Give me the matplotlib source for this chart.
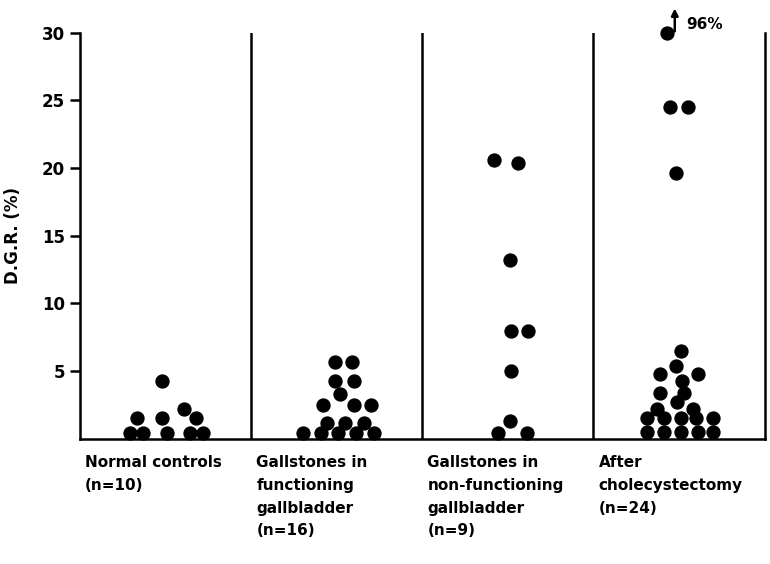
import matplotlib
matplotlib.use("Agg")
import matplotlib.pyplot as plt

# groups shown left to right
groups = [
    "Normal controls\n(n=10)",
    "Gallstones in\nfunctioning\ngallbladder\n(n=16)",
    "Gallstones in\nnon-functioning\ngallbladder\n(n=9)",
    "After\ncholecystectomy\n(n=24)",
]

# D.G.R. (%) per patient
normal = [0.4, 0.4, 0.4, 0.4, 0.4, 1.5, 1.5, 1.5, 2.2, 4.3]
functioning = [0.4, 0.4, 0.4, 0.4, 0.4, 1.2, 1.2, 1.2, 2.5, 2.5, 2.5,
               3.3, 4.3, 4.3, 5.7, 5.7]
non_functioning = [0.4, 0.4, 1.3, 5.0, 8.0, 8.0, 13.2, 20.6, 20.4]
after_chole = [0.5, 0.5, 0.5, 0.5, 0.5, 1.5, 1.5, 1.5, 1.5, 1.5,
               2.2, 2.2, 2.7, 3.4, 3.4, 4.3, 4.8, 4.8, 5.4, 6.5,
               19.6, 24.5, 24.5, 96.0]

# horizontal scatter of each dot inside its column (fraction of column width)
normal_dx = [-0.21, -0.13, 0.01, 0.14, 0.22, -0.17, -0.02, 0.18, 0.11, -0.02]
functioning_dx = [-0.20, -0.09, 0.01, 0.11, 0.22, -0.06, 0.05, 0.16,
                  -0.08, 0.10, 0.20, 0.02, -0.01, 0.10, -0.01, 0.09]
non_functioning_dx = [-0.06, 0.11, 0.01, 0.02, 0.02, 0.12, 0.01, -0.08, 0.06]
after_chole_dx = [-0.19, -0.09, 0.01, 0.11, 0.20, -0.19, -0.09, 0.01, 0.10, 0.20,
                  -0.13, 0.08, -0.01, -0.11, 0.03, 0.02, -0.11, 0.11, -0.02, 0.01,
                  -0.02, -0.05, 0.05, -0.07]

values = [normal, functioning, non_functioning, after_chole]
offsets = [normal_dx, functioning_dx, non_functioning_dx, after_chole_dx]

ymax = 30

fig = plt.figure(figsize=(7.7, 5.64), dpi=100)
ax = fig.add_axes([0.104, 0.222, 0.889, 0.72])

for i, (vals, dxs) in enumerate(zip(values, offsets)):
    xs = [i + 0.5 + d for d in dxs]
    ys = [min(v, ymax) for v in vals]
    ax.plot(xs, ys, "o", color="black", ms=9.3, clip_on=False, zorder=3)
    for x, v in zip(xs, vals):
        if v > ymax:
            # off-scale value: arrow up with the real number
            ax.annotate("", xy=(x + 0.045, ymax + 2.0), xytext=(x + 0.045, ymax - 0.1),
                        arrowprops=dict(arrowstyle="-|>", color="black", lw=1.8,
                                        mutation_scale=10),
                        annotation_clip=False)
            ax.text(x + 0.11, ymax + 0.6, f"{v:.0f}%", fontsize=11, fontweight="bold",
                    va="center", ha="left")

for xv in range(1, 4):
    ax.axvline(xv, color="black", lw=1.8)

ax.set_xlim(0, 4)
ax.set_ylim(0, ymax)
ax.spines["top"].set_visible(False)
for s in ["left", "bottom", "right"]:
    ax.spines[s].set_linewidth(1.8)

ax.set_yticks([5, 10, 15, 20, 25, 30])
ax.set_xticks([])
ax.tick_params(axis="y", length=7, width=1.8, labelsize=12, pad=4)
for lbl in ax.get_yticklabels():
    lbl.set_fontweight("bold")

ax.set_ylabel("D.G.R. (%)", fontsize=12, fontweight="bold", labelpad=14)

for i, g in enumerate(groups):
    ax.text(i + 0.03, -1.2, g, fontsize=11, fontweight="bold", va="top", ha="left",
            linespacing=1.65)

fig.savefig("out.png", dpi=100)
